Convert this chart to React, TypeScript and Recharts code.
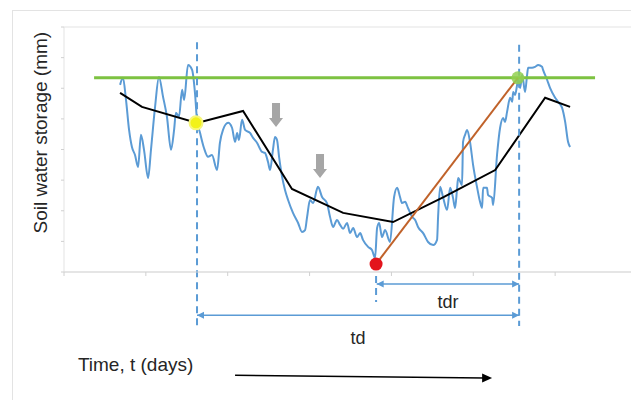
import React from 'react';
import { LineChart, Line, XAxis, YAxis, ReferenceLine, ReferenceDot, ReferenceArea } from 'recharts';

// daily soil water storage (days, mm index)
const dailyDay = [27.4,28.8,30.3,31.8,33.2,34.7,36.2,37.6,39.1,41.1,42.5,44.5,46.4,48.4,50.3,52.3,53.8,54.7,56.2,57.7,58.7,60.6,62.6,64.0,65.0,66.5,68.4,70.4,72.3,74.8,76.2,77.7,80.2,82.1,83.6,84.6,85.5,87.0,88.5,90.9,92.4,94.3,96.8,98.2,99.7,100.7,102.1,103.1,104.1,105.1,106.6,108.0,109.5,111.9,114.4,116.3,117.8,118.8,120.2,121.7,124.1,126.1,128.5,130.0,131.5,133.4,134.9,136.4,138.3,139.8,141.3,143.2,144.7,146.1,148.6,150.5,152.0,153.0,154.0,155.4,156.9,159.3,161.3,162.8,164.2,165.2,166.7,168.1,170.1,171.6,173.0,175.5,177.9,180.4,182.3,182.8,183.8,185.2,187.2,188.7,190.1,191.1,192.1,192.6,194.5,195.0,196.0,197.0,198.4,199.9,201.9,203.3,204.3,204.8,206.7,207.2,209.2,209.7,211.6,213.1,214.6,215.5,216.5,218.0,219.0,219.5,220.4,221.4,221.9,222.9,223.9,225.3,226.3,226.8,228.7,230.2,231.7,233.6,234.1,236.1,237.5,240.0,241.4,243.4,244.9,246.3,247.3];
const dailyStorage = [6.11,6.34,5.62,4.64,4.08,3.82,3.43,4.48,3.99,3.07,3.99,5.39,6.37,5.72,5.07,3.99,4.64,5.20,5.07,5.95,5.62,6.76,6.60,5.85,4.97,4.54,4.05,3.76,3.82,3.33,4.22,4.64,4.87,4.71,4.25,4.54,4.31,4.97,4.64,4.54,4.38,4.22,3.92,3.89,3.59,3.33,3.99,4.41,4.31,3.76,3.10,2.68,2.35,1.93,1.60,1.31,1.37,1.80,2.35,2.25,2.78,2.45,2.25,1.80,1.47,1.70,1.54,1.41,1.60,1.27,1.44,1.14,1.27,1.05,0.82,0.72,0.46,1.44,1.60,1.14,1.37,0.98,2.45,2.75,2.45,2.25,2.29,2.09,1.80,1.70,1.47,1.27,0.98,0.88,1.05,1.80,2.78,2.45,2.03,2.75,2.42,2.09,2.75,3.07,2.84,4.25,4.48,4.64,4.25,3.50,2.75,2.29,2.09,2.75,2.75,2.52,2.42,2.19,3.82,4.71,5.03,4.90,5.23,5.69,5.56,5.88,5.78,6.11,6.34,6.01,6.44,5.88,6.44,6.67,6.67,6.70,6.76,6.70,6.60,6.27,6.01,5.69,5.56,5.36,4.90,4.25,4.08];

// monthly mean
const monthlyDay = [27.4, 38.1, 65.0, 87.5, 111.4, 136.4, 160.8, 185.7, 210.7, 235.1, 247.3];
const monthlyStorage = [5.85, 5.39, 4.87, 5.26, 2.71, 1.93, 1.63, 2.45, 3.33, 5.69, 5.39];

const thresholdDay = [14.7, 259.5];
const thresholdStorage = 6.34;

const dryStart = 64.5;       // yellow point
const dryStartStorage = 4.87;
const dryMin = 152.5;        // red point
const dryMinStorage = 0.26;
const dryEnd = 222.4;        // green point
const xTicks = [0, 40, 80, 120, 160, 200, 240, 280];
const yTicks = [0, 1, 2, 3, 4, 5, 6, 7, 8];

const dailyData = dailyDay.map((t, i) => ({ t, v: dailyStorage[i] }));
const monthlyData = monthlyDay.map((t, i) => ({ t, v: monthlyStorage[i] }));
const thresholdData = thresholdDay.map((t) => ({ t, v: thresholdStorage }));
const rechargeData = [{ t: dryMin, v: dryMinStorage }, { t: dryEnd - 0.6, v: thresholdStorage }];

const BLUE = '#5b9bd5';
const TEXT = '#262626';

const DoubleArrow = (p: any) => {
  const { x1, y1, x2, y2 } = p;
  const s = 7;
  return (
    <g>
      <line x1={x1} y1={y1} x2={x2} y2={y2} stroke={BLUE} strokeWidth={1.5} />
      <polygon points={`${x1},${y1} ${x1 + s},${y1 - 3.5} ${x1 + s},${y1 + 3.5}`} fill={BLUE} />
      <polygon points={`${x2},${y2} ${x2 - s},${y2 - 3.5} ${x2 - s},${y2 + 3.5}`} fill={BLUE} />
    </g>
  );
};

const TimeArrow = (p: any) => {
  const { x1, y1, x2, y2 } = p;
  return (
    <g>
      <line x1={x1} y1={y1} x2={x2 - 8} y2={y2} stroke="#000" strokeWidth={1.5} />
      <polygon points={`${x2},${y2} ${x2 - 10},${y2 - 4.5} ${x2 - 10},${y2 + 4.5}`} fill="#000" />
    </g>
  );
};

const DownArrow = (p: any) => {
  const { cx, cy } = p;
  return (
    <polygon
      points={`${cx - 4},${cy - 12} ${cx + 4},${cy - 12} ${cx + 4},${cy + 3} ${cx + 7},${cy + 3} ${cx},${cy + 12} ${cx - 7},${cy + 3} ${cx - 4},${cy + 3}`}
      fill="#a6a6a6"
    />
  );
};

const Nothing = () => <g />;

export default function App() {
  return (
    <div style={{ margin: -8, position: 'relative', width: 639, height: 408, fontFamily: 'Liberation Sans, Arial, sans-serif', background: '#fff' }}>
      <div style={{ position: 'absolute', left: 12, top: 10, width: 627, height: 410, border: '1px solid #e3e3e3', boxSizing: 'border-box' }} />
      <LineChart width={639} height={408} margin={{ top: 27, right: 2, left: 60, bottom: 130 }} style={{ position: 'absolute', left: 0, top: 0 }}>
        <XAxis dataKey="t" type="number" domain={[0, 280]} ticks={xTicks} tick={Nothing} tickSize={4} height={6} axisLine={{ stroke: '#d9d9d9' }} tickLine={{ stroke: '#d0d0d0' }} />
        <YAxis type="number" domain={[0, 8]} ticks={yTicks} tick={Nothing} tickSize={3} width={4} axisLine={false} tickLine={{ stroke: '#d0d0d0' }} />
        <ReferenceArea x1={0} x2={280} y1={0} y2={8} fill="none" stroke="#e3e3e3" strokeWidth={1} ifOverflow="visible" />

        <Line data={dailyData} dataKey="v" type="monotone" stroke={BLUE} strokeWidth={2} dot={false} isAnimationActive={false} />
        <Line data={thresholdData} dataKey="v" type="linear" stroke="#7dc241" strokeWidth={3} dot={false} isAnimationActive={false} />
        <Line data={monthlyData} dataKey="v" type="linear" stroke="#000" strokeWidth={2} dot={false} isAnimationActive={false} />
        <Line data={rechargeData} dataKey="v" type="linear" stroke="#c0622a" strokeWidth={2} dot={false} isAnimationActive={false} />

        <ReferenceLine segment={[{ x: 65, y: 7.5 }, { x: 65, y: -1.76 }]} stroke={BLUE} strokeWidth={2} strokeDasharray="7 5" ifOverflow="visible" />
        <ReferenceLine segment={[{ x: dryEnd, y: 7.42 }, { x: dryEnd, y: -1.76 }]} stroke={BLUE} strokeWidth={2} strokeDasharray="7 5" ifOverflow="visible" />
        <ReferenceLine segment={[{ x: dryMin, y: -0.13 }, { x: dryMin, y: -0.98 }]} stroke={BLUE} strokeWidth={2} strokeDasharray="7 5" ifOverflow="visible" />

        <ReferenceLine segment={[{ x: dryMin + 0.3, y: -0.39 }, { x: dryEnd, y: -0.39 }]} shape={DoubleArrow} ifOverflow="visible"
          label={{ value: 'tdr', position: 'bottom', offset: 11, fill: TEXT, fontSize: 18 }} />
        <ReferenceLine segment={[{ x: 65, y: -1.41 }, { x: dryEnd, y: -1.41 }]} shape={DoubleArrow} ifOverflow="visible"
          label={{ value: 'td', position: 'bottom', offset: 16, fill: TEXT, fontSize: 18 }} />
        <ReferenceLine segment={[{ x: 83.6, y: -3.37 }, { x: 209.2, y: -3.46 }]} shape={TimeArrow} ifOverflow="visible" />

        <ReferenceDot x={6.8} y={-3.0} r={0} shape={Nothing} ifOverflow="visible"
          label={{ value: 'Time, t (days)', position: 'right', offset: 0, fill: TEXT, fontSize: 19 }} />
        <ReferenceDot x={-11.7} y={4.55} r={0} shape={Nothing} ifOverflow="visible"
          label={{ value: 'Soil water storage (mm)', position: 'center', angle: -90, fill: TEXT, fontSize: 19 }} />

        <ReferenceDot x={103.6} y={5.13} shape={DownArrow} ifOverflow="visible" />
        <ReferenceDot x={125.1} y={3.46} shape={DownArrow} ifOverflow="visible" />

        <ReferenceDot x={dryStart} y={dryStartStorage} r={6.5} fill="#f2f21a" stroke="#f7f77a" strokeWidth={2} ifOverflow="visible" />
        <ReferenceDot x={dryMin} y={dryMinStorage} r={6.5} fill="#e3141c" stroke="none" ifOverflow="visible" />
        <ReferenceDot x={dryEnd - 0.6} y={thresholdStorage} r={6.5} fill="#92d050" fillOpacity={0.85} stroke="none" ifOverflow="visible" />
      </LineChart>
    </div>
  );
}
